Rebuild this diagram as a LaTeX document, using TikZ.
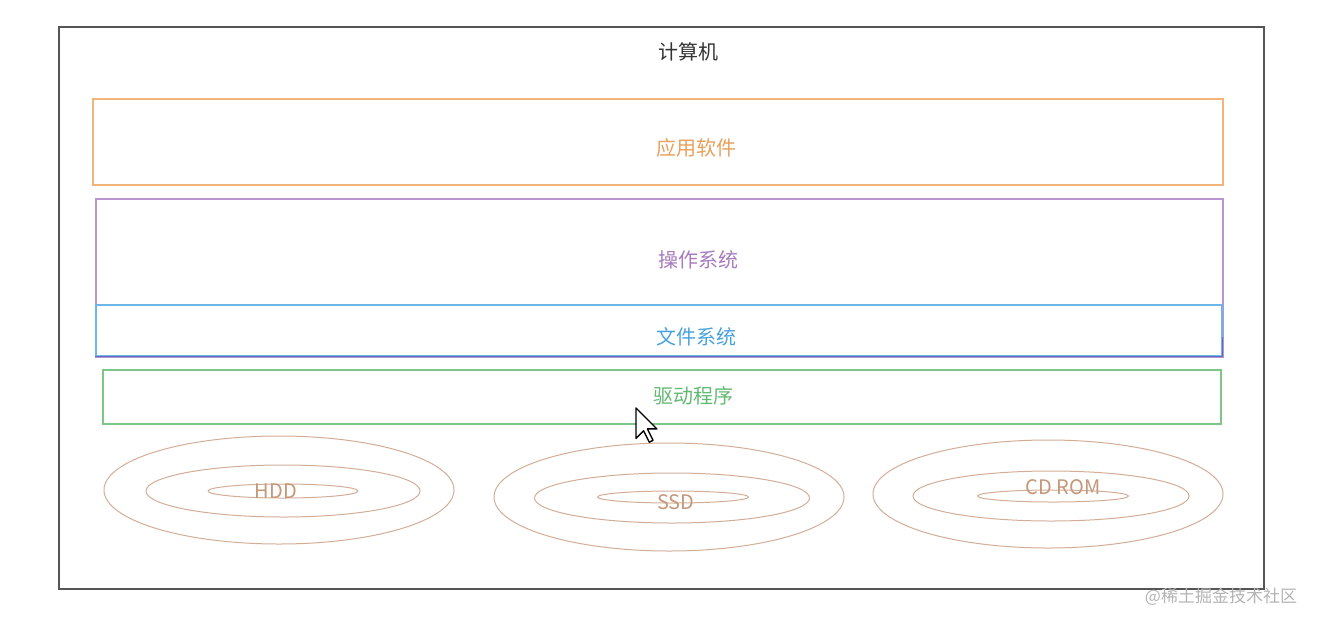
\documentclass[tikz,border=0pt]{standalone}
\usepackage{fontspec}
\setmainfont{Noto Sans CJK SC}
\usetikzlibrary{shapes.geometric}
\definecolor{outerc}{HTML}{555555}
\definecolor{appc}{HTML}{F2B47A}
\definecolor{apptxt}{HTML}{E8A05A}
\definecolor{osc}{HTML}{B995CF}
\definecolor{ostxt}{HTML}{A77BBE}
\definecolor{fsc}{HTML}{6DB6EA}
\definecolor{fsbot}{HTML}{5A6CC8}
\definecolor{fstxt}{HTML}{48A2DC}
\definecolor{drvc}{HTML}{7CC68A}
\definecolor{drvtxt}{HTML}{62BA72}
\definecolor{diskc}{HTML}{D2AE98}
\definecolor{disktxt}{HTML}{C49878}
\definecolor{wmc}{HTML}{B4B4B4}
\begin{document}
\begin{tikzpicture}[x=1pt,y=-1pt,
  box/.style={draw, rectangle, inner sep=0pt, line width=1.2pt},
  lbl/.style={font=\fontsize{20}{24}\selectfont, inner sep=0pt},
  disk/.style={draw=diskc, ellipse, inner sep=0pt, line width=1pt},
  disklbl/.style={font=\fontsize{20}{24}\selectfont, text=disktxt, inner sep=0pt}]
\useasboundingbox (0,0) rectangle (1321,627);
\fill[white] (0,0) rectangle (1321,627);
% outer computer box
\node[box, draw=outerc, line width=1.5pt, minimum width=1205pt, minimum height=562pt] (pc) at (661.5,308) {};
\node[lbl, text=black!80] (pct) at (688,52) {计算机};
% application software
\node[box, draw=appc, minimum width=1130pt, minimum height=86pt] (app) at (658,142) {};
\node[lbl, text=apptxt] (appt) at (696,148) {应用软件};
% operating system
\node[box, draw=osc, minimum width=1127pt, minimum height=158pt] (os) at (659.5,278) {};
\node[lbl, text=ostxt] (ost) at (698,260) {操作系统};
% file system
\node[box, draw=fsc, minimum width=1126pt, minimum height=51pt] (fs) at (659,330.5) {};
\draw[fsbot, line width=1.2pt] (fs.south west) -- (fs.south east) -- ++(0,-20);
\node[lbl, text=fstxt] (fst) at (696,337) {文件系统};
% driver
\node[box, draw=drvc, minimum width=1118pt, minimum height=54pt] (drv) at (662,397) {};
\node[lbl, text=drvtxt] (drvt) at (693,396) {驱动程序};
% HDD
\node[disk, minimum width=350pt, minimum height=108pt] (hdd1) at (279,490) {};
\node[disk, minimum width=274pt, minimum height=52pt] (hdd2) at (283,491) {};
\node[disk, minimum width=150pt, minimum height=14pt] (hdd3) at (283,491) {};
\node[disklbl] (hddt) at (276,491) {HDD};
% SSD
\node[disk, minimum width=350pt, minimum height=108pt] (ssd1) at (669,497) {};
\node[disk, minimum width=275pt, minimum height=50pt] (ssd2) at (672,498) {};
\node[disk, minimum width=151pt, minimum height=12pt] (ssd3) at (673,497) {};
\node[disklbl] (ssdt) at (676,502) {SSD};
% CD ROM
\node[disk, minimum width=350pt, minimum height=108pt] (cd1) at (1048,494) {};
\node[disk, minimum width=276pt, minimum height=50pt] (cd2) at (1051,496) {};
\node[disk, minimum width=151pt, minimum height=12pt] (cd3) at (1053,496) {};
\node[disklbl] (cdt) at (1063,487) {CD ROM};
% mouse cursor
\draw[black, fill=white, line width=1.4pt, line join=round]
  (636,408) -- ++(0,30.4) -- ++(7.6,-7.6) -- ++(5.7,11.4) -- ++(3.8,-1.9)
  -- ++(-5.7,-11.4) -- ++(9.5,0) -- cycle;
% watermark
\node[font=\fontsize{17}{20}\selectfont, text=wmc, inner sep=0pt] (wm) at (1221,597) {@稀土掘金技术社区};
\end{tikzpicture}
\end{document}
